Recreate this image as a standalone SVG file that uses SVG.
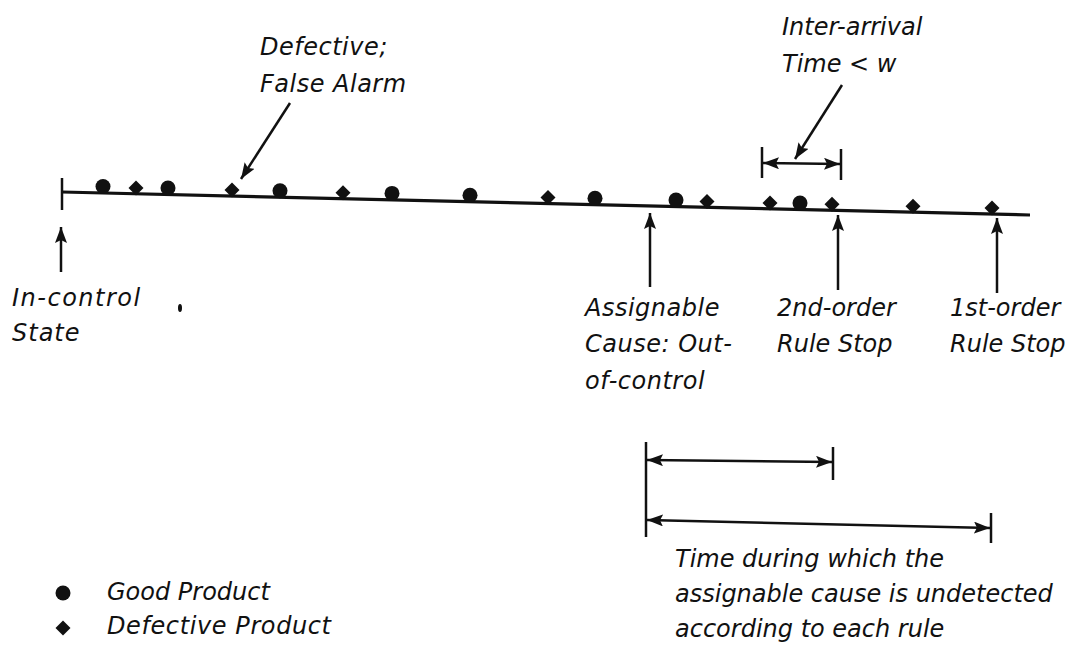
<svg xmlns="http://www.w3.org/2000/svg" width="1075" height="653" viewBox="0 0 1075 653">
<style>
.t{font-family:"DejaVu Sans","Liberation Sans",sans-serif;font-style:italic;font-size:24px;fill:#111}
.ln{stroke:#111;stroke-width:2.5;fill:none}
.mk{fill:#111}
</style>
<defs>
<marker id="ah" viewBox="0 0 16 12" refX="16" refY="6" markerWidth="16" markerHeight="12" markerUnits="userSpaceOnUse" orient="auto-start-reverse">
<path d="M0,0 L16,6 L0,12 L3,6 z" fill="#111"/>
</marker>
<circle id="good" r="7.5"/>
<path id="bad" d="M0,-7.5 L7.5,0 L0,7.5 L-7.5,0 z"/>
</defs>
<rect width="1075" height="653" fill="#fff"/>
<g id="timeline">
<line x1="62" y1="192" x2="1030" y2="215" stroke="#111" stroke-width="3.2"/>
<line x1="62" y1="178" x2="62" y2="210" class="ln"/>
</g>
<g id="products" class="mk">
<use href="#good" x="103" y="186.5"/>
<use href="#bad" x="136" y="188"/>
<use href="#good" x="168" y="188"/>
<use href="#bad" x="232" y="190"/>
<use href="#good" x="280" y="190.7"/>
<use href="#bad" x="343" y="192.7"/>
<use href="#good" x="392" y="193.4"/>
<use href="#good" x="470" y="195.2"/>
<use href="#bad" x="548" y="197.6"/>
<use href="#good" x="595" y="198.2"/>
<use href="#good" x="676" y="200.1"/>
<use href="#bad" x="707" y="201.4"/>
<use href="#bad" x="770" y="202.9"/>
<use href="#good" x="800" y="203.1"/>
<use href="#bad" x="832" y="204.3"/>
<use href="#bad" x="913" y="206.3"/>
<use href="#bad" x="992" y="208.1"/>
</g>
<g id="connectors">
<line x1="61" y1="272" x2="61" y2="227" class="ln" marker-end="url(#ah)"/>
<line x1="650" y1="287" x2="650" y2="213" class="ln" marker-end="url(#ah)"/>
<line x1="838" y1="290" x2="838" y2="215" class="ln" marker-end="url(#ah)"/>
<line x1="997" y1="293" x2="997" y2="218" class="ln" marker-end="url(#ah)"/>
<line x1="290" y1="103" x2="241" y2="179" class="ln" marker-end="url(#ah)"/>
<line x1="842" y1="85" x2="795" y2="159" class="ln" marker-end="url(#ah)"/>
<line x1="762" y1="147" x2="762" y2="178" class="ln"/>
<line x1="841" y1="149" x2="841" y2="180" class="ln"/>
<line x1="763" y1="163" x2="840" y2="164" class="ln" marker-start="url(#ah)" marker-end="url(#ah)"/>
<line x1="646" y1="442" x2="646" y2="537" class="ln"/>
<line x1="833" y1="447" x2="833" y2="480" class="ln"/>
<line x1="647" y1="460" x2="832" y2="462" class="ln" marker-start="url(#ah)" marker-end="url(#ah)"/>
<line x1="991" y1="513" x2="991" y2="543" class="ln"/>
<line x1="647" y1="520" x2="990" y2="528" class="ln" marker-start="url(#ah)" marker-end="url(#ah)"/>
</g>
<g id="label-incontrol">
<text class="t" x="12" y="306" letter-spacing="1.5">In-control</text>
<text class="t" x="12" y="341" letter-spacing="1">State</text>
</g>
<ellipse cx="180" cy="308" rx="2" ry="4" fill="#111"/>
<g id="label-defective">
<text class="t" x="260" y="55" letter-spacing="0.5">Defective;</text>
<text class="t" x="260" y="92" letter-spacing="0.5">False Alarm</text>
</g>
<g id="label-interarrival">
<text class="t" x="782" y="35">Inter-arrival</text>
<text class="t" x="782" y="72">Time &lt; w</text>
</g>
<g id="label-assignable">
<text class="t" x="585" y="316" letter-spacing="0.5">Assignable</text>
<text class="t" x="585" y="352" letter-spacing="0.5">Cause: Out-</text>
<text class="t" x="585" y="389" letter-spacing="0.5">of-control</text>
</g>
<g id="label-2nd">
<text class="t" x="777" y="316">2nd-order</text>
<text class="t" x="777" y="352">Rule Stop</text>
</g>
<g id="label-1st">
<text class="t" x="950" y="316">1st-order</text>
<text class="t" x="950" y="352">Rule Stop</text>
</g>
<g id="label-time">
<text class="t" x="675" y="567">Time during which the</text>
<text class="t" x="675" y="602">assignable cause is undetected</text>
<text class="t" x="675" y="637">according to each rule</text>
</g>
<g id="legend">
<use href="#good" x="63" y="593" class="mk"/>
<use href="#bad" x="63" y="628" class="mk"/>
<text class="t" x="107" y="600">Good Product</text>
<text class="t" x="107" y="634" letter-spacing="0.6">Defective Product</text>
</g>
</svg>
